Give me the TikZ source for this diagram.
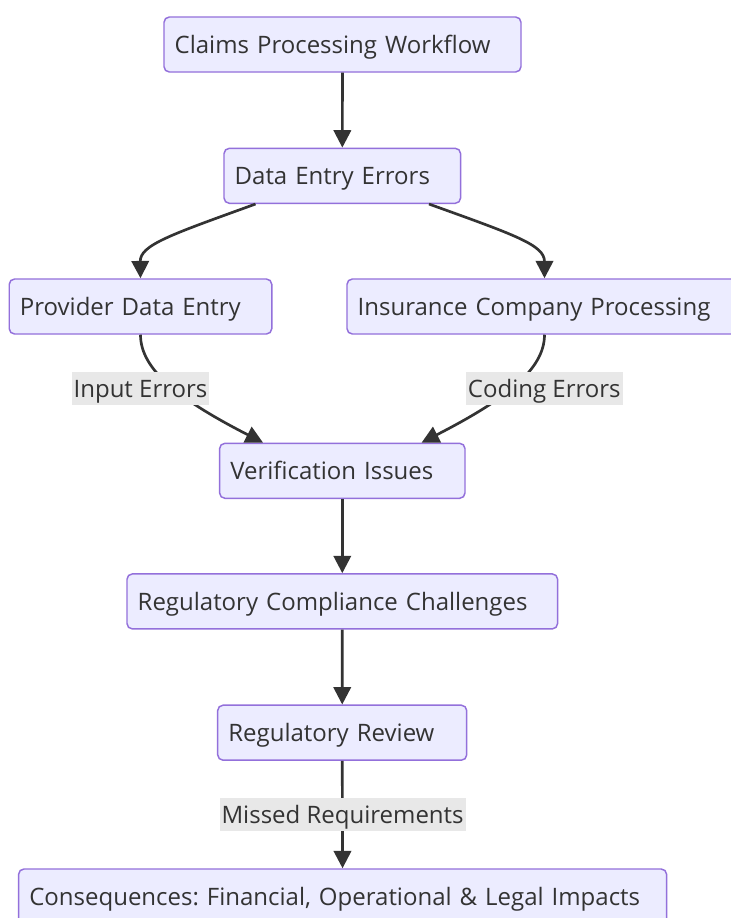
\documentclass[tikz,border=0pt]{standalone}
\usepackage{fontspec}
\setmainfont{Open Sans}
\frenchspacing
\usetikzlibrary{arrows.meta,calc}
\definecolor{boxfill}{HTML}{ECECFF}
\definecolor{boxline}{HTML}{9370DB}
\definecolor{ink}{HTML}{333333}
\definecolor{labelbg}{HTML}{E8E8E8}
\tikzset{
  flowbox/.style={draw=boxline, fill=boxfill, line width=1.1pt, rounded corners=4pt,
    text=ink, align=left, inner xsep=8pt, inner ysep=0pt, minimum height=41.25pt,
    text height=12.9pt, text depth=0pt, font=\fontsize{18pt}{22pt}\selectfont\frenchspacing},
  edgelabel/.style={fill=labelbg, text=ink, inner xsep=1.5pt, inner ysep=0pt,
    minimum height=24.75pt, text height=12.9pt, text depth=0pt,
    font=\fontsize{18pt}{22pt}\selectfont},
  edge/.style={draw=ink, line width=2pt, -{Triangle[length=13pt,width=13pt]}}
}
\begin{document}
\begin{tikzpicture}[x=0.75pt,y=-0.75pt]
\clip (0,0) rectangle (731,918);
\fill[white] (0,0) rectangle (731,918);
% nodes
\node[flowbox, text width=251.75pt] (b1) at (342.5,44.5) {Claims Processing Workflow};
\node[flowbox, text width=161.45pt] (b2) at (342.3,175.8) {Data Entry Errors};
\node[flowbox, text width=180.9pt] (b3) at (140.5,306.5) {Provider Data Entry};
\node[flowbox, text width=280.25pt] (b4) at (544.5,306.5) {Insurance Company Processing};
\node[flowbox, text width=168.05pt] (b5) at (342.3,470.8) {Verification Issues};
\node[flowbox, text width=306.95pt] (b6) at (342.3,601.4) {Regulatory Compliance Challenges};
\node[flowbox, text width=170.75pt] (b7) at (342.2,732.7) {Regulatory Review};
\node[flowbox, text width=470pt] (b8) at (342.6,896.5) {Consequences: Financial, Operational \& Legal Impacts};
% edges
\draw[edge] (b1) -- (b2);
\draw[edge] ([xshift=-65.1pt]b2.south) .. controls (170,235) and (140,245) .. (b3.north);
\draw[edge] ([xshift=65pt]b2.south) .. controls (515,235) and (544.5,245) .. (b4.north);
\draw[edge] (b3.south) .. controls (140.5,370) and (180,400) .. ([xshift=-59.5pt]b5.north);
\draw[edge] (b4.south) .. controls (544.5,370) and (504.5,400) .. ([xshift=59.5pt]b5.north);
\draw[edge] (b5) -- (b6);
\draw[edge] (b6) -- (b7);
\draw[edge] (b7) -- (b8);
% labels
\node[edgelabel] (l1) at (140.5,388.8) {Input Errors};
\node[edgelabel] (l2) at (544.3,388.8) {Coding Errors};
\node[edgelabel] (l3) at (342.6,814.8) {Missed Requirements};
\end{tikzpicture}
\end{document}
